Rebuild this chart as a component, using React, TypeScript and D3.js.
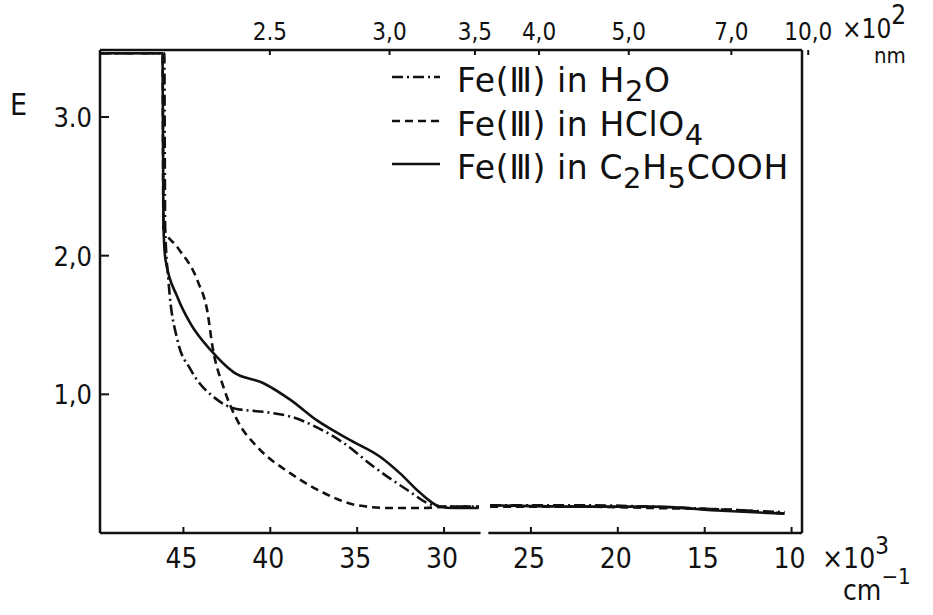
import React from 'react';
import * as d3 from 'd3';

// wavenumber (x10^3 cm-1) vs extinction E
const waveTicks = [45, 40, 35, 30, 25, 20, 15, 10];
const eTicks = [3.0, 2.0, 1.0];
const eTickLabels = ['3.0', '2,0', '1,0'];
const nmTicks = [2.5, 3.0, 3.5, 4.0, 5.0, 7.0, 10.0];
const nmTickLabels = ['2.5', '3,0', '3,5', '4,0', '5,0', '7,0', '10,0'];
const axisBreak = [27.9, 27.45];

// null marks the break in the curves
const h2o = [
  [49.75, 3.46], [46.1, 3.46], [46.05, 2.2], [45.86, 1.82], [45.34, 1.39], [44.59, 1.18],
  [43.04, 0.96], [42.12, 0.9], [40.16, 0.87], [38.84, 0.84], [37.29, 0.76], [35.79, 0.65],
  [34.07, 0.48], [32.11, 0.31], [30.62, 0.2], [29.8, 0.19], [28.0, 0.19], [27.7, null],
  [27.35, 0.2], [22, 0.2], [18, 0.19], [14, 0.17], [10.4, 0.15],
];
const hclo4 = [
  [49.75, 3.46], [46.2, 3.46], [46.15, 2.2], [45.34, 2.06], [44.19, 1.82], [43.61, 1.59],
  [43.32, 1.34], [42.69, 1.05], [41.89, 0.81], [40.74, 0.62], [38.84, 0.43], [36.94, 0.29],
  [34.99, 0.2], [33.09, 0.18], [31.19, 0.18], [29.81, 0.19], [28.0, 0.19], [27.7, null],
  [27.35, 0.19], [22, 0.19], [18, 0.18], [14, 0.17], [10.4, 0.14],
];
const propionic = [
  [49.75, 3.46], [46.2, 3.46], [46.15, 2.22], [46.03, 1.97], [45.34, 1.7], [44.59, 1.51],
  [43.44, 1.32], [42.12, 1.16], [40.39, 1.08], [38.84, 0.96], [37.29, 0.81], [35.4, 0.67],
  [33.68, 0.55], [32.53, 0.43], [31.38, 0.29], [30.23, 0.19], [29.5, 0.18], [28.0, 0.18], [27.7, null],
  [27.35, 0.2], [22, 0.19], [18, 0.19], [14, 0.16], [10.4, 0.14],
];

const series = [
  { key: 'h2o', data: h2o, dash: '11,4,2,4' },
  { key: 'hclo4', data: hclo4, dash: '8,5' },
  { key: 'prop', data: propionic, dash: null },
];

const W = 933, H = 615;
const left = 100, right = 802, top = 50, bottom = 533;
const font = "'DejaVu Sans Condensed', 'DejaVu Sans', sans-serif";
const ink = '#111';

export default function App() {
  const x = d3.scaleLinear().domain([49.8, 9.4]).range([left, right]);
  // upper nm scale on the scan is slightly stretched against the lower one
  const xTop = d3.scaleLinear().domain([49.8, 9.4]).range([94, 819]);
  const y = d3.scaleLinear().domain([0, 3]).range([bottom, 117]);
  // nm x10^2 -> cm-1 x10^3
  const nmToWave = (t: number) => 100 / t;

  const line = d3.line<any>()
    .defined(d => d[1] != null)
    .x(d => x(d[0]))
    .y(d => y(d[1]))
    .curve(d3.curveMonotoneX);

  const legendRows = [92, 136, 179];

  return (
    <div style={{ position: 'absolute', left: 0, top: 0 }}>
      <svg width={W} height={H} style={{ display: 'block', background: '#fff' }}>
        {/* frame */}
        <g stroke={ink} strokeWidth={2.5} fill="none">
          <line x1={left} y1={top} x2={right} y2={top} />
          <line x1={left} y1={top} x2={left} y2={bottom} />
          <line x1={right} y1={top} x2={right} y2={bottom} />
          <line x1={left} y1={bottom} x2={x(axisBreak[0])} y2={bottom} />
          <line x1={x(axisBreak[1])} y1={bottom} x2={right} y2={bottom} />
        </g>

        {/* bottom axis */}
        {waveTicks.map(t => (
          <g key={'b' + t}>
            <line x1={x(t)} x2={x(t)} y1={bottom} y2={bottom - 6} stroke={ink} strokeWidth={2} />
            <text x={x(t) - 2} y={568} textAnchor="middle" fontFamily={font} fontSize={28} fill={ink}>{t}</text>
          </g>
        ))}
        <text x={822} y={568} fontFamily={font} fontSize={28} fill={ink}>
          ×10<tspan dy={-14} fontSize={24}>3</tspan>
        </text>
        <text x={843} y={600} fontFamily={font} fontSize={28} fill={ink}>
          cm<tspan dy={-16} fontSize={22}>−1</tspan>
        </text>

        {/* top axis, nm x10^2 */}
        {nmTicks.map((t, i) => (
          <g key={'t' + t}>
            <line x1={xTop(nmToWave(t))} x2={xTop(nmToWave(t))} y1={top} y2={top + 5} stroke={ink} strokeWidth={2} />
            <text x={xTop(nmToWave(t))} y={40} textAnchor="middle" fontFamily={font} fontSize={24} fill={ink}>{nmTickLabels[i]}</text>
          </g>
        ))}
        <text x={842} y={38} fontFamily={font} fontSize={26} fill={ink}>
          ×10<tspan dy={-14} fontSize={26}>2</tspan>
        </text>
        <text x={874} y={63} fontFamily={font} fontSize={22} fill={ink}>nm</text>

        {/* left axis */}
        {eTicks.map((t, i) => (
          <g key={'l' + t}>
            <line x1={left} x2={left + 9} y1={y(t)} y2={y(t)} stroke={ink} strokeWidth={2} />
            <text x={92} y={y(t) + 10} textAnchor="end" fontFamily={font} fontSize={27} fill={ink}>{eTickLabels[i]}</text>
          </g>
        ))}
        <text x={10} y={115} fontFamily={font} fontSize={30} fill={ink}>E</text>

        {/* curves */}
        {series.map(s => (
          <path key={s.key} d={line(s.data as any) || ''} fill="none" stroke={ink}
            strokeWidth={2.6} strokeDasharray={s.dash || undefined} strokeLinejoin="round" />
        ))}

        {/* legend */}
        {series.map((s, i) => (
          <g key={'lg' + s.key}>
            <line x1={392} x2={440} y1={legendRows[i] - 15} y2={legendRows[i] - 15} stroke={ink}
              strokeWidth={2.6} strokeDasharray={s.dash || undefined} />
            <text x={457} y={legendRows[i]} fontFamily="'DejaVu Sans', sans-serif" fontSize={33}
              letterSpacing={0.6} fill={ink}>
              Fe(Ⅲ) in {s.key === 'prop' ? (
                <>C<tspan dy={9} fontSize={29}>2</tspan><tspan dy={-9}>H</tspan><tspan dy={9} fontSize={29}>5</tspan><tspan dy={-9}>COOH</tspan></>
              ) : s.key === 'h2o' ? (
                <>H<tspan dy={9} fontSize={29}>2</tspan><tspan dy={-9}>O</tspan></>
              ) : (
                <>HClO<tspan dy={9} fontSize={29}>4</tspan></>
              )}
            </text>
          </g>
        ))}
      </svg>
    </div>
  );
}
